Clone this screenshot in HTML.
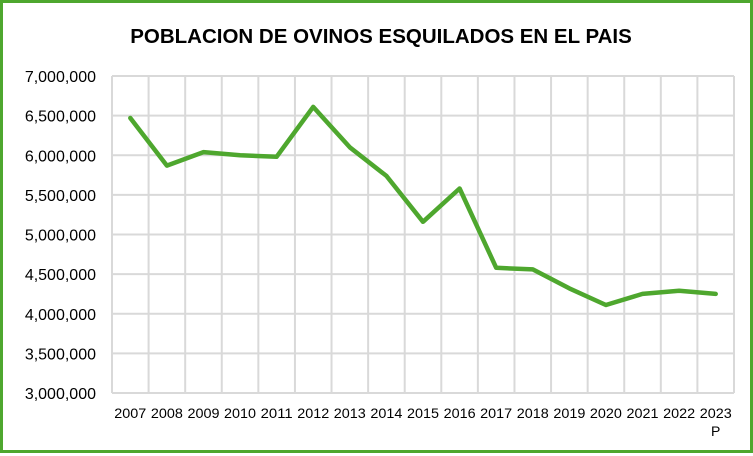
<!DOCTYPE html>
<html><head><meta charset="utf-8"><style>
html,body{margin:0;padding:0;background:#fff}
#wrap{position:relative;width:753px;height:453px;box-sizing:border-box;border:3px solid #4ea72e;background:#fff}
svg{position:absolute;left:0;top:0}
</style></head><body>
<div id="wrap">
<svg id="chart" width="753" height="453" viewBox="0 0 753 453">
<text x="378" y="40" text-anchor="middle" font-family="Liberation Sans, sans-serif" font-weight="bold" font-size="20.5" fill="#000">POBLACION DE OVINOS ESQUILADOS EN EL PAIS</text>
</svg>
</div>
<script>
const categories = ["2007","2008","2009","2010","2011","2012","2013","2014","2015","2016","2017","2018","2019","2020","2021","2022","2023"];
const values = [6470000,5870000,6040000,6000000,5980000,6610000,6100000,5740000,5160000,5580000,4580000,4560000,4320000,4110000,4250000,4290000,4250000];
const yTicks = [3000000,3500000,4000000,4500000,5000000,5500000,6000000,6500000,7000000];
const yTickLabels = ["3,000,000","3,500,000","4,000,000","4,500,000","5,000,000","5,500,000","6,000,000","6,500,000","7,000,000"];

const NS = "http://www.w3.org/2000/svg";
const svg = document.getElementById("chart");
const L = 109, R = 731, T = 73, B = 390, yMin = 3000000, yMax = 7000000;
const bw = (R - L) / categories.length;
function xPos(i){ return L + bw * (i + 0.5); }
function yPos(v){ return B - (v - yMin) / (yMax - yMin) * (B - T); }
function mk(tag, attrs){ const e = document.createElementNS(NS, tag); for (const k in attrs) e.setAttribute(k, attrs[k]); svg.appendChild(e); return e; }

yTicks.forEach((t, i) => {
  const g = mk("line", {x1: L, x2: R, y1: yPos(t), y2: yPos(t), stroke: "#d9d9d9", "stroke-width": 2});
  
  
  const lb = mk("text", {x: 93, y: yPos(t) + 6, "text-anchor": "end", "font-family": "Liberation Sans, sans-serif", "font-size": "16", fill: "#000"});
  lb.textContent = yTickLabels[i];
  
  
});
for (let i = 0; i <= categories.length; i++) {
  const g = mk("line", {x1: L + bw * i, x2: L + bw * i, y1: T, y2: B, stroke: "#d9d9d9", "stroke-width": 2});
  
  
}
categories.forEach((c, i) => {
  const lb = mk("text", {x: xPos(i), y: 415, "text-anchor": "middle", "font-family": "Liberation Sans, sans-serif", "font-size": "14", "transform": "", fill: "#000"});
  lb.setAttribute("textLength", "32");
  lb.setAttribute("lengthAdjust", "spacingAndGlyphs");
  lb.textContent = c;
  
  
});
const p = mk("text", {x: xPos(categories.length - 1), y: 433, "text-anchor": "middle", "font-family": "Liberation Sans, sans-serif", "font-size": "14", fill: "#000"});
p.textContent = "P";



const pts = values.map((v, i) => xPos(i).toFixed(1) + "," + yPos(v).toFixed(1)).join(" ");
const line = mk("polyline", {points: pts, fill: "none", stroke: "#4ea72e", "stroke-width": 4.5, "stroke-linejoin": "round", "stroke-linecap": "round"});


</script>
</body></html>
